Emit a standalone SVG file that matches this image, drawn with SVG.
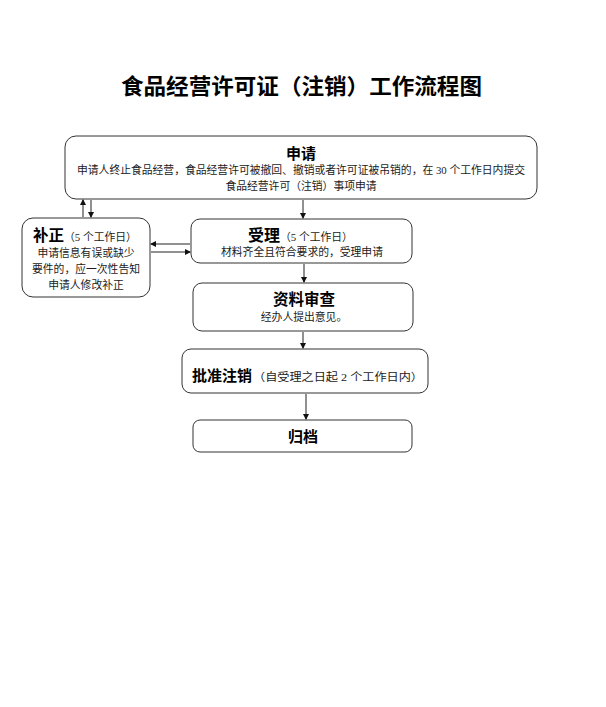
<svg xmlns="http://www.w3.org/2000/svg" width="606" height="707" viewBox="0 0 606 707">
<style>
.box{fill:#fff;stroke:#333;stroke-width:1}
.h{font-family:"Noto Sans CJK SC","Liberation Sans",sans-serif;font-weight:bold;fill:#000}
.t{font-family:"Liberation Serif","Noto Sans CJK SC",serif;font-size:10.8px;fill:#1a1a1a}
.c line{stroke:#222;stroke-width:1;marker-end:url(#ah)}
</style>
<defs>
<marker id="ah" markerWidth="6" markerHeight="6" refX="5" refY="3" orient="auto" markerUnits="userSpaceOnUse">
<path d="M0,0 L6,3 L0,6 Z" fill="#111"/>
</marker>
</defs>
<rect width="606" height="707" fill="#fff"/>
<text class="h" x="301.5" y="94" font-size="21.5" text-anchor="middle" textLength="361" lengthAdjust="spacingAndGlyphs">食品经营许可证（注销）工作流程图</text>

<g id="shenqing">
<rect class="box" x="65" y="136" width="472" height="63" rx="11"/>
<text class="h" x="301" y="159" font-size="15" text-anchor="middle">申请</text>
<text class="t" x="301" y="174" text-anchor="middle" textLength="448" lengthAdjust="spacingAndGlyphs">申请人终止食品经营，食品经营许可被撤回、撤销或者许可证被吊销的，在 30 个工作日内提交</text>
<text class="t" x="301" y="190" text-anchor="middle">食品经营许可（注销）事项申请</text>
</g>

<g id="buzheng">
<rect class="box" x="22" y="218" width="128" height="79" rx="11"/>
<text x="33" y="241"><tspan class="h" font-size="15.5">补正</tspan><tspan class="t">（5 个工作日）</tspan></text>
<text class="t" x="86" y="257" text-anchor="middle">申请信息有误或缺少</text>
<text class="t" x="86" y="273" text-anchor="middle">要件的，应一次性告知</text>
<text class="t" x="86" y="289" text-anchor="middle">申请人修改补正</text>
</g>

<g id="shouli">
<rect class="box" x="191" y="219" width="221" height="44" rx="9"/>
<text x="248" y="241"><tspan class="h" font-size="16">受理</tspan><tspan class="t">（5 个工作日）</tspan></text>
<text class="t" x="302" y="256" text-anchor="middle">材料齐全且符合要求的，受理申请</text>
</g>

<g id="shencha">
<rect class="box" x="193" y="283" width="220" height="48" rx="9"/>
<text class="h" x="304" y="305" font-size="15.5" text-anchor="middle">资料审查</text>
<text class="t" x="304" y="321" text-anchor="middle">经办人提出意见。</text>
</g>

<g id="pizhun">
<rect class="box" x="182" y="349" width="246" height="44" rx="9"/>
<text class="h" x="192" y="381" font-size="15">批准注销</text>
<text class="t" x="253" y="381" font-size="11.5" textLength="170" lengthAdjust="spacingAndGlyphs">（自受理之日起 2 个工作日内）</text>
</g>

<g id="guidang">
<rect class="box" x="193" y="420" width="219" height="32" rx="7"/>
<text class="h" x="303" y="442" font-size="15" text-anchor="middle">归档</text>
</g>

<g id="connectors" class="c">
<line x1="83" y1="217" x2="83" y2="200"/>
<line x1="91" y1="200" x2="91" y2="217"/>
<line x1="303" y1="200" x2="303" y2="218"/>
<line x1="190" y1="244" x2="151" y2="244"/>
<line x1="151" y1="252" x2="190" y2="252"/>
<line x1="304" y1="264" x2="304" y2="282"/>
<line x1="303" y1="332" x2="303" y2="348"/>
<line x1="306" y1="394" x2="306" y2="419"/>
</g>
</svg>
